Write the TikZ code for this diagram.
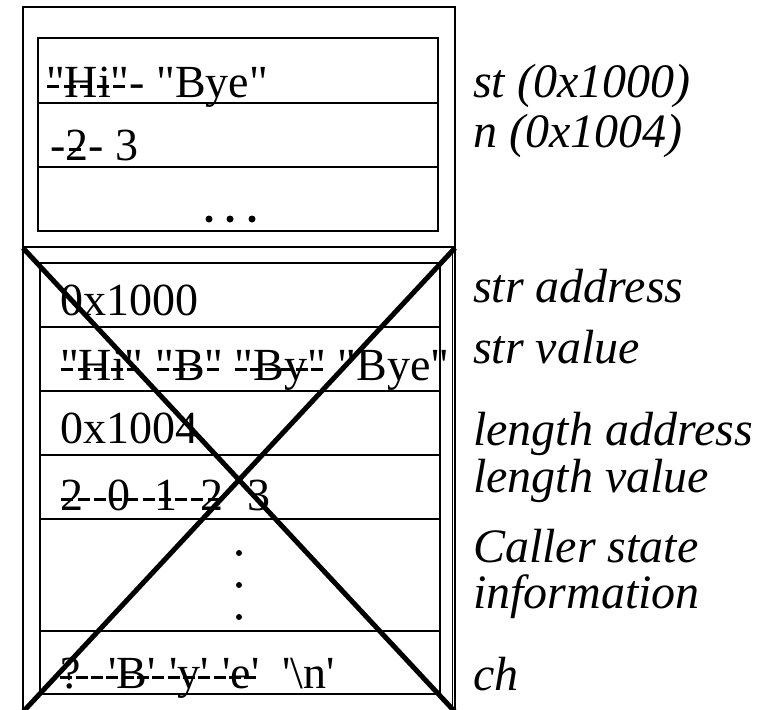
\documentclass[tikz,border=0pt]{standalone}
\usepackage{fontspec}
\newfontfamily\tnr{Liberation Serif}
% dashed strike-through, like overtyped hyphens
\newcommand\ds[1]{\leavevmode\rlap{#1}\setbox0=\hbox{#1}\hbox to \wd0{\xleaders\hbox{\rule[0.195em]{0.26em}{0.06em}\kern0.07em}\hfill}}
\tikzset{
  box/.style={line width=1.5pt},
  cross/.style={line width=5pt},
  cell/.style={anchor=base west, inner sep=0pt, font=\tnr\fontsize{46}{50}\selectfont},
  lab/.style={anchor=base west, inner sep=0pt, font=\tnr\itshape\fontsize{48}{50}\selectfont},
  dot/.style={fill=black}
}
\begin{document}
\begin{tikzpicture}[x=1pt,y=-1pt]
\useasboundingbox (0,0) rectangle (757,709);
% upper frame
\draw[box] (23,7) rectangle (455,247);
\draw[box] (38,38) rectangle (438,231);
\draw[box] (38,103) -- (438,103);
\draw[box] (38,167) -- (438,167);
% lower frame
\draw[box] (23,247) -- (23,715);
\draw[box] (455,247) -- (455,715);
\draw[line width=0.8pt] (452,250) -- (452,715);
\draw[box] (40,263) rectangle (440,694);
\foreach \yy in {327,391,455,519,631} \draw[box] (40,\yy) -- (440,\yy);
% cell texts
\node[cell] (st) at (46,97) {\ds{"Hi"}- "Bye"};
\node[cell] (n) at (50,160) {-\ds{2}- 3};
\fill[dot] (209,219) circle (3.5);
\fill[dot] (230,219) circle (3.5);
\fill[dot] (252,219) circle (3.5);
\node[cell] (stra) at (60,315) {0x1000};
\node[cell] (strv) at (60,380) {\ds{"Hi"} \ds{"B"} \ds{"By"} "Bye"};
\node[cell] (lena) at (60,443) {0x1004};
\node[cell] (lenv) at (60,510) {\ds{2\hspace{0.52em}0\hspace{0.52em}1\hspace{0.52em}2}\hspace{0.52em}3};
\fill[dot] (239,553) circle (3);
\fill[dot] (239,585) circle (3);
\fill[dot] (239,617) circle (3);
\node[cell] (ch) at (60,688) {\ds{?\hspace{0.6em}'B'\hspace{0.3em}'y'\hspace{0.3em}'e'}\hspace{0.5em}'\textbackslash n'};
% labels
\node[lab] (l1) at (473,97) {st (0x1000)};
\node[lab] (l2) at (473,147) {n (0x1004)};
\node[lab] (l3) at (473,302) {str address};
\node[lab] (l4) at (473,363) {str value};
\node[lab] (l5) at (473,445) {length address};
\node[lab] (l6) at (473,492) {length value};
\node[lab] (l7) at (473,562) {Caller state};
\node[lab] (l8) at (473,608) {information};
\node[lab] (l9) at (473,690) {ch};
% cross
\coordinate (xa) at (23,248);
\coordinate (xb) at (455,248);
\coordinate (xc) at (457,714);
\coordinate (xd) at (21,714);
\draw[cross] (xa) -- (xc);
\draw[cross] (xb) -- (xd);
\end{tikzpicture}
\end{document}
